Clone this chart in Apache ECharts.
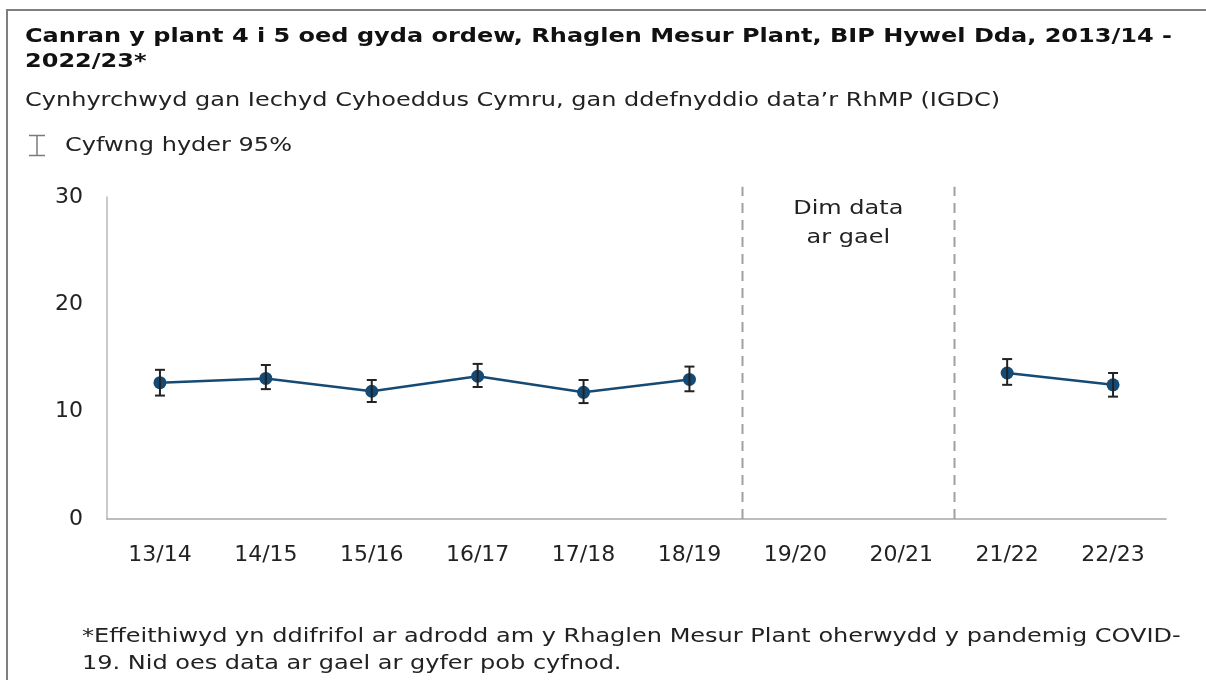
<!DOCTYPE html>
<html>
<head>
<meta charset="utf-8">
<style>
  html, body { margin: 0; padding: 0; background: #fff; }
  #chart { width: 1206px; height: 680px; }
</style>
<script src="https://cdn.jsdelivr.net/npm/echarts@6/dist/echarts.min.js"></script>
</head>
<body>
<div id="chart"></div>
<script>
'use strict';

// blynyddoedd (categorïau)
var categories = ['13/14', '14/15', '15/16', '16/17', '17/18', '18/19', '19/20', '20/21', '21/22', '22/23'];
// canran gydag ordew (null = dim data)
var values = [12.7, 13.1, 11.9, 13.3, 11.8, 13.0, null, null, 13.6, 12.5];
// cyfwng hyder 95%
var lower = [11.5, 12.1, 10.9, 12.3, 10.8, 11.9, null, null, 12.5, 11.4];
var upper = [13.9, 14.35, 12.95, 14.45, 12.95, 14.2, null, null, 14.9, 13.6];
var yTicks = [0, 10, 20, 30];
// llinellau toredig rhwng y categorïau hyn
var gapPairs = [[5, 6], [7, 8]];
var noDataText = 'Dim data\nar gael';
var noDataBetween = [6, 7];

var titleText = 'Canran y plant 4 i 5 oed gyda ordew, Rhaglen Mesur Plant, BIP Hywel Dda, 2013/14 -\n2022/23*';
var subText = 'Cynhyrchwyd gan Iechyd Cyhoeddus Cymru, gan ddefnyddio data\u2019r RhMP (IGDC)';
var legendText = 'Cyfwng hyder 95%';
var footText = '*Effeithiwyd yn ddifrifol ar adrodd am y Rhaglen Mesur Plant oherwydd y pandemig COVID-\n19. Nid oes data ar gael ar gyfer pob cyfnod.';

var font = '"DejaVu Sans", Verdana, sans-serif';
var lineColor = '#154a75';
// mae Verdana yn lletach na DejaVu, felly ymestyn y testun
var wide = 1.2;

var errData = [];
for (var i = 0; i < categories.length; i++) {
    if (values[i] !== null) {
        errData.push([i, lower[i], upper[i]]);
    }
}

var iconStyle = { stroke: '#7a7a7a', lineWidth: 1.5 };

var chart = echarts.init(document.getElementById('chart'));

var option = {
    animation: false,
    textStyle: { fontFamily: font },
    graphic: [{
        type: 'rect',
        shape: { x: 7, y: 10, width: 1400, height: 900 },
        style: { fill: 'none', stroke: '#7f7f7f', lineWidth: 2 },
        silent: true
    }, {
        type: 'text',
        x: 25, y: 24, scaleX: wide,
        style: { text: titleText, font: 'bold 20px ' + font, lineHeight: 25, fill: '#111', verticalAlign: 'top' }
    }, {
        type: 'text',
        x: 25, y: 91, scaleX: wide,
        style: { text: subText, font: '20px ' + font, fill: '#222', verticalAlign: 'top' }
    }, {
        // eicon cyfwng hyder
        type: 'group',
        silent: true,
        children: [
            { type: 'line', shape: { x1: 29, y1: 135.5, x2: 45, y2: 135.5 }, style: iconStyle },
            { type: 'line', shape: { x1: 37, y1: 135.5, x2: 37, y2: 155.5 }, style: iconStyle },
            { type: 'line', shape: { x1: 29, y1: 155.5, x2: 45, y2: 155.5 }, style: iconStyle }
        ]
    }, {
        type: 'text',
        x: 65, y: 136, scaleX: wide,
        style: { text: legendText, font: '20px ' + font, fill: '#222', verticalAlign: 'top' }
    }, {
        type: 'text',
        x: 82, y: 623, scaleX: wide,
        style: { text: footText, font: '20px ' + font, lineHeight: 27, fill: '#222', verticalAlign: 'top' }
    }],
    grid: { left: 107, right: 40, top: 197, bottom: 161 },
    xAxis: {
        type: 'category',
        data: categories,
        boundaryGap: true,
        axisLine: { lineStyle: { color: '#a8a8a8', width: 1.5 } },
        axisTick: { show: false },
        axisLabel: { fontSize: 22, color: '#222', margin: 25, fontFamily: font },
        splitLine: { show: false }
    },
    yAxis: {
        type: 'value',
        min: yTicks[0],
        max: yTicks[yTicks.length - 1],
        interval: yTicks[1] - yTicks[0],
        axisLine: { show: true, lineStyle: { color: '#b8b8b8', width: 1.5 } },
        axisTick: { show: false },
        axisLabel: { fontSize: 22, color: '#222', margin: 24, fontFamily: font },
        splitLine: { show: false }
    },
    series: [{
        // llinellau toredig
        type: 'custom',
        silent: true,
        clip: false,
        data: gapPairs,
        renderItem: function (params, api) {
            var a = api.coord([api.value(0), 0]);
            var b = api.coord([api.value(1), 0]);
            var x = Math.round((a[0] + b[0]) / 2) + 0.5;
            var top = api.coord([api.value(0), 30.95]);
            return {
                type: 'line',
                shape: { x1: x, y1: a[1], x2: x, y2: top[1] },
                style: { stroke: '#a0a0a0', lineWidth: 2, lineDash: [10, 7] }
            };
        }
    }, {
        // testun "dim data"
        type: 'custom',
        silent: true,
        clip: false,
        data: [noDataBetween],
        renderItem: function (params, api) {
            var a = api.coord([api.value(0), 30]);
            var b = api.coord([api.value(1), 30]);
            return {
                type: 'text',
                x: (a[0] + b[0]) / 2,
                y: a[1] - 3,
                scaleX: wide,
                style: {
                    text: noDataText,
                    x: 0,
                    y: 0,
                    align: 'center',
                    verticalAlign: 'top',
                    fontSize: 20,
                    lineHeight: 29,
                    fontFamily: font,
                    fill: '#222'
                }
            };
        }
    }, {
        name: 'gwerth',
        type: 'line',
        data: values,
        connectNulls: false,
        symbol: 'circle',
        symbolSize: 13,
        z: 3,
        lineStyle: { color: lineColor, width: 2.5 },
        itemStyle: { color: lineColor }
    }, {
        name: legendText,
        type: 'custom',
        z: 4,
        data: errData,
        renderItem: function (params, api) {
            var lo = api.coord([api.value(0), api.value(1)]);
            var hi = api.coord([api.value(0), api.value(2)]);
            var w = 5;
            var st = { stroke: '#222', lineWidth: 2 };
            return {
                type: 'group',
                children: [
                    { type: 'line', shape: { x1: lo[0], y1: lo[1], x2: hi[0], y2: hi[1] }, style: st },
                    { type: 'line', shape: { x1: hi[0] - w, y1: hi[1], x2: hi[0] + w, y2: hi[1] }, style: st },
                    { type: 'line', shape: { x1: lo[0] - w, y1: lo[1], x2: lo[0] + w, y2: lo[1] }, style: st }
                ]
            };
        }
    }]
};

chart.setOption(option);
</script>
</body>
</html>
